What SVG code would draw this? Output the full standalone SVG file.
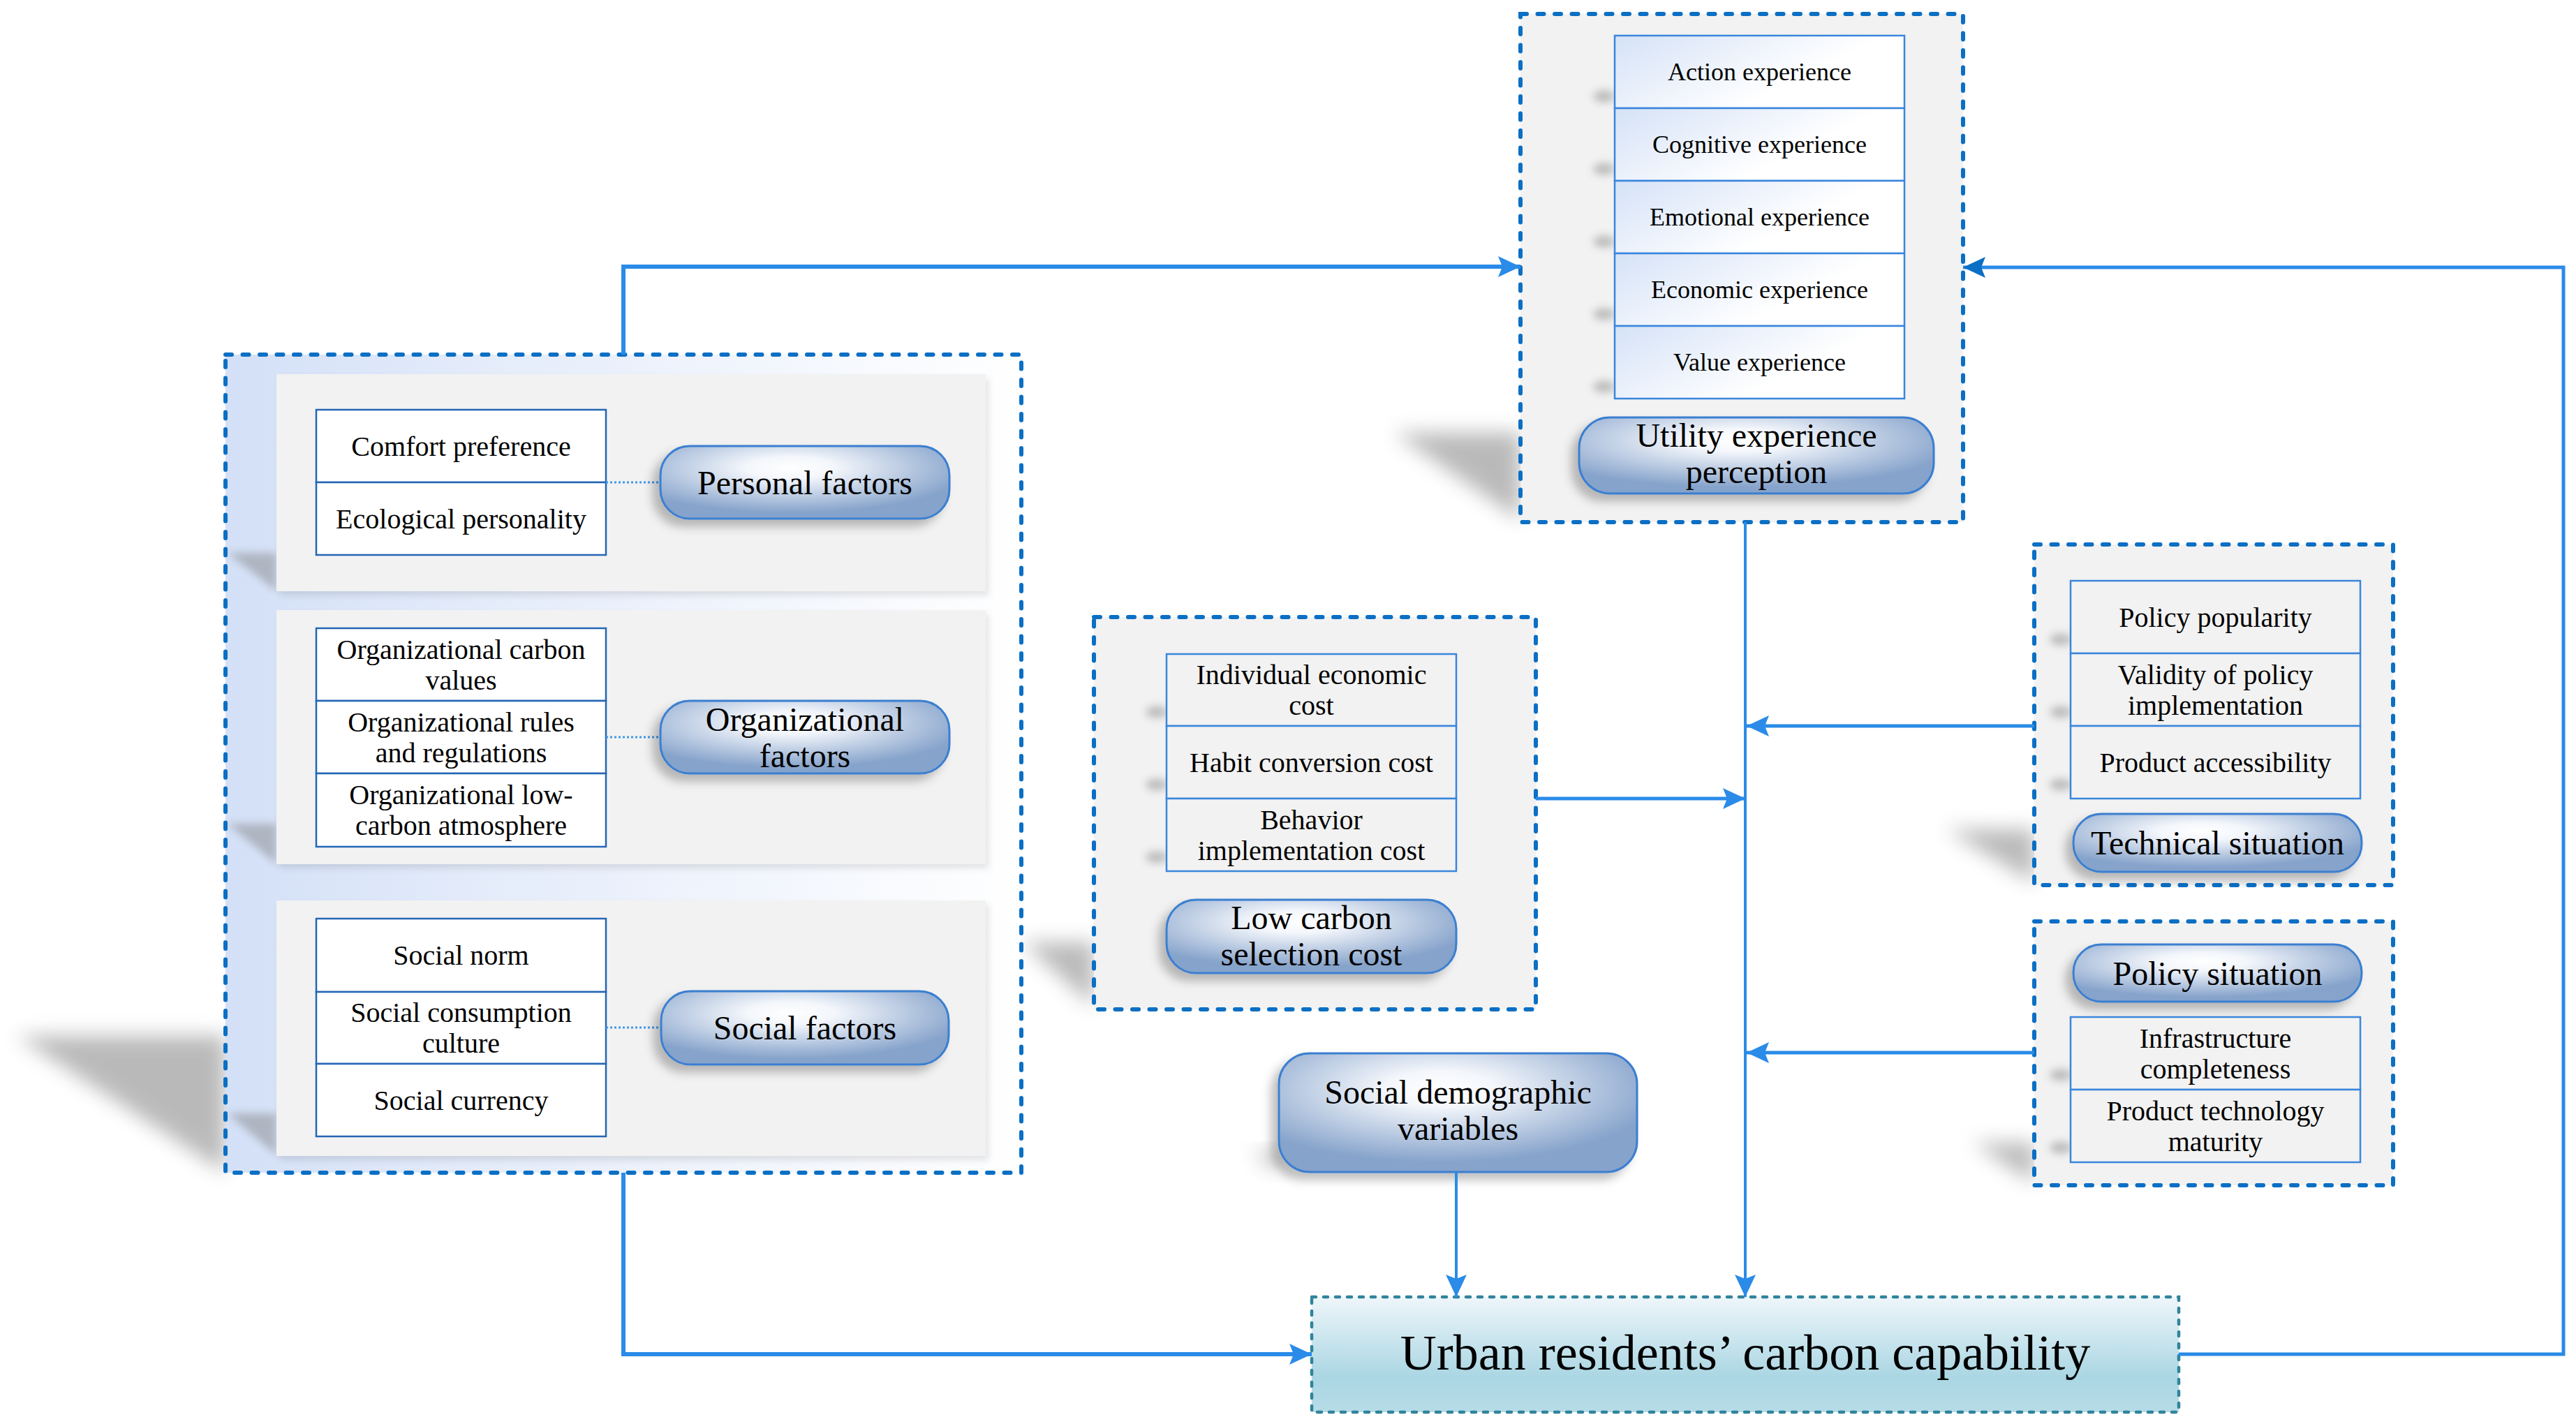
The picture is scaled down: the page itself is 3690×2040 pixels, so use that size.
<svg xmlns="http://www.w3.org/2000/svg" width="3690" height="2040" viewBox="0 0 3690 2040">
<defs>
<style>
.t{font-family:"Liberation Serif","Times New Roman",serif;text-anchor:middle;fill:#000}
.f40{font-size:40px}.f36{font-size:36px}.f48{font-size:48px}.f72{font-size:72px}
.group{fill:#f2f2f2;stroke:#0b6fc4;stroke-width:6;stroke-dasharray:9 15.5;stroke-linecap:round}
.panel{fill:#f2f2f2}
.subw{fill:#ffffff;stroke:#2466b5;stroke-width:2.5}
.subu{fill:url(#gUtil);stroke:#3a86dc;stroke-width:2.5}
.subg{fill:#f2f2f2;stroke:#3a86dc;stroke-width:2.5}
.pill{fill:url(#gPill);stroke:#3b7fd0;stroke-width:3;filter:url(#pillShadow)}
.dot{stroke:#3f9ae8;stroke-width:3;stroke-dasharray:3 3;fill:none}
.conn{fill:none;stroke:#2a8be8;stroke-linejoin:miter}
.shadow{fill:#8c8c8c;opacity:0.6;filter:url(#blur)}
.sshadow{fill:#808080;opacity:0.45;filter:url(#blurS)}
</style>
<linearGradient id="gLeft" x1="0" y1="0" x2="1" y2="0">
<stop offset="0" stop-color="#d3e0f7"/><stop offset="0.3" stop-color="#e3ebfa"/><stop offset="1" stop-color="#ffffff"/>
</linearGradient>
<linearGradient id="gUtil" x1="0" y1="0" x2="1" y2="0.5">
<stop offset="0" stop-color="#d5e2f7"/><stop offset="0.75" stop-color="#ffffff"/><stop offset="1" stop-color="#ffffff"/>
</linearGradient>
<radialGradient id="gPill" cx="0.45" cy="0.3" r="0.62">
<stop offset="0" stop-color="#ffffff"/><stop offset="0.25" stop-color="#f3f6fb"/><stop offset="1" stop-color="#86a3cb"/>
</radialGradient>
<linearGradient id="gUrban" x1="0" y1="0" x2="0" y2="1">
<stop offset="0" stop-color="#eef6fa"/><stop offset="0.7" stop-color="#aad6e3"/><stop offset="1" stop-color="#b6dce7"/>
</linearGradient>
<filter id="blur" x="-50%" y="-50%" width="200%" height="200%"><feGaussianBlur stdDeviation="14"/></filter>
<filter id="blurS" x="-100%" y="-100%" width="300%" height="300%"><feGaussianBlur stdDeviation="6"/></filter>
<filter id="pillShadow" x="-20%" y="-20%" width="140%" height="150%"><feDropShadow dx="-10" dy="10" stdDeviation="7" flood-color="#000" flood-opacity="0.25"/></filter>
<filter id="panelShadow" x="-5%" y="-5%" width="110%" height="115%"><feDropShadow dx="4" dy="6" stdDeviation="5" flood-color="#000" flood-opacity="0.1"/></filter>
<marker id="arr" markerUnits="userSpaceOnUse" viewBox="0 0 32 30" markerWidth="32" markerHeight="30" refX="32" refY="15" orient="auto">
<path d="M0,0 L32,15 L0,30 L6,15 Z" fill="#2a8be8"/>
</marker>
<marker id="arrD" markerUnits="userSpaceOnUse" viewBox="0 0 32 30" markerWidth="32" markerHeight="30" refX="32" refY="15" orient="auto">
<path d="M0,0 L32,15 L0,30 L6,15 Z" fill="#0b6fc4"/>
</marker>
</defs>
<rect width="3690" height="2040" fill="#ffffff"/>

<!-- shadows -->
<g id="shadows">
<polygon class="shadow" points="24,1484 323,1484 323,1680"/>
<polygon class="shadow" points="1997,620 2178,620 2178,745"/>
<polygon class="shadow" points="1465,1350 1567,1350 1567,1442"/>
<polygon class="shadow" points="2788,1188 2914,1188 2914,1265"/>
<polygon class="shadow" points="2826,1637 2914,1637 2914,1695"/>
<polygon class="shadow" points="1795,1650 1832,1650 1832,1680"/>
</g>

<!-- left group -->
<g id="individual-context">
<rect x="323" y="508" width="1140" height="1172" fill="url(#gLeft)" stroke="#0b6fc4" stroke-width="6" stroke-dasharray="9 15.5" stroke-linecap="round"/>
<polygon class="sshadow" points="326,792 396,792 396,847"/>
<polygon class="sshadow" points="326,1180 396,1180 396,1238"/>
<polygon class="sshadow" points="326,1595 396,1595 396,1655"/>
<g id="personal-factors">
<rect class="panel" x="396" y="536" width="1016" height="311" filter="url(#panelShadow)"/>
<rect class="subw" x="453" y="587" width="415" height="104"/>
<rect class="subw" x="453" y="691" width="415" height="104"/>
<text class="t f40" x="660.5" y="653">Comfort preference</text>
<text class="t f40" x="660.5" y="757">Ecological personality</text>
<line class="dot" x1="868" y1="691" x2="946" y2="691"/>
<rect class="pill" x="946" y="639" width="414" height="104" rx="42"/>
<text class="t f48" x="1153" y="708">Personal factors</text>
</g>
<g id="organizational-factors">
<rect class="panel" x="396" y="874" width="1016" height="364" filter="url(#panelShadow)"/>
<rect class="subw" x="453" y="900" width="415" height="104"/>
<rect class="subw" x="453" y="1004" width="415" height="104"/>
<rect class="subw" x="453" y="1108" width="415" height="105"/>
<text class="t f40" x="660.5" y="944">Organizational carbon</text>
<text class="t f40" x="660.5" y="988">values</text>
<text class="t f40" x="660.5" y="1048">Organizational rules</text>
<text class="t f40" x="660.5" y="1092">and regulations</text>
<text class="t f40" x="660.5" y="1152">Organizational low-</text>
<text class="t f40" x="660.5" y="1196">carbon atmosphere</text>
<line class="dot" x1="868" y1="1056" x2="946" y2="1056"/>
<rect class="pill" x="946" y="1004" width="414" height="104" rx="42"/>
<text class="t f48" x="1153" y="1047">Organizational</text>
<text class="t f48" x="1153" y="1099">factors</text>
</g>
<g id="social-factors">
<rect class="panel" x="396" y="1290" width="1016" height="366" filter="url(#panelShadow)"/>
<rect class="subw" x="453" y="1316" width="415" height="105"/>
<rect class="subw" x="453" y="1421" width="415" height="103"/>
<rect class="subw" x="453" y="1524" width="415" height="104"/>
<text class="t f40" x="660.5" y="1382">Social norm</text>
<text class="t f40" x="660.5" y="1464">Social consumption</text>
<text class="t f40" x="660.5" y="1508">culture</text>
<text class="t f40" x="660.5" y="1590">Social currency</text>
<line class="dot" x1="868" y1="1472" x2="947" y2="1472"/>
<rect class="pill" x="947" y="1420" width="412" height="105" rx="42"/>
<text class="t f48" x="1153" y="1489">Social factors</text>
</g>
</g>

<!-- utility experience -->
<g id="utility-experience">
<rect class="group" x="2178" y="20" width="634" height="728"/>
<ellipse class="sshadow" cx="2298" cy="138" rx="16" ry="9"/>
<ellipse class="sshadow" cx="2298" cy="242" rx="16" ry="9"/>
<ellipse class="sshadow" cx="2298" cy="346" rx="16" ry="9"/>
<ellipse class="sshadow" cx="2298" cy="450" rx="16" ry="9"/>
<ellipse class="sshadow" cx="2298" cy="554" rx="16" ry="9"/>
<rect class="subu" x="2313" y="51" width="415" height="104"/>
<rect class="subu" x="2313" y="155" width="415" height="104"/>
<rect class="subu" x="2313" y="259" width="415" height="104"/>
<rect class="subu" x="2313" y="363" width="415" height="104"/>
<rect class="subu" x="2313" y="467" width="415" height="104"/>
<text class="t f36" x="2520.5" y="115">Action experience</text>
<text class="t f36" x="2520.5" y="219">Cognitive experience</text>
<text class="t f36" x="2520.5" y="323">Emotional experience</text>
<text class="t f36" x="2520.5" y="427">Economic experience</text>
<text class="t f36" x="2520.5" y="531">Value experience</text>
<rect class="pill" x="2262" y="598" width="508" height="109" rx="44"/>
<text class="t f48" x="2516" y="640">Utility experience</text>
<text class="t f48" x="2516" y="692">perception</text>
</g>

<!-- low carbon selection cost -->
<g id="low-carbon-selection-cost">
<rect class="group" x="1567" y="884" width="633" height="562"/>
<ellipse class="sshadow" cx="1657" cy="1020" rx="16" ry="9"/>
<ellipse class="sshadow" cx="1657" cy="1124" rx="16" ry="9"/>
<ellipse class="sshadow" cx="1657" cy="1228" rx="16" ry="9"/>
<rect class="subg" x="1671" y="937" width="415" height="103"/>
<rect class="subg" x="1671" y="1040" width="415" height="104"/>
<rect class="subg" x="1671" y="1144" width="415" height="104"/>
<text class="t f40" x="1878.5" y="980">Individual economic</text>
<text class="t f40" x="1878.5" y="1024">cost</text>
<text class="t f40" x="1878.5" y="1106">Habit conversion cost</text>
<text class="t f40" x="1878.5" y="1188">Behavior</text>
<text class="t f40" x="1878.5" y="1232">implementation cost</text>
<rect class="pill" x="1671" y="1289" width="415" height="105" rx="42"/>
<text class="t f48" x="1878.5" y="1331">Low carbon</text>
<text class="t f48" x="1878.5" y="1383">selection cost</text>
</g>

<!-- technical situation -->
<g id="technical-situation">
<rect class="group" x="2914" y="780" width="514" height="488"/>
<ellipse class="sshadow" cx="2952" cy="916" rx="16" ry="9"/>
<ellipse class="sshadow" cx="2952" cy="1020" rx="16" ry="9"/>
<ellipse class="sshadow" cx="2952" cy="1124" rx="16" ry="9"/>
<rect class="subg" x="2966" y="832" width="415" height="104"/>
<rect class="subg" x="2966" y="936" width="415" height="104"/>
<rect class="subg" x="2966" y="1040" width="415" height="104"/>
<text class="t f40" x="3173.5" y="898">Policy popularity</text>
<text class="t f40" x="3173.5" y="980">Validity of policy</text>
<text class="t f40" x="3173.5" y="1024">implementation</text>
<text class="t f40" x="3173.5" y="1106">Product accessibility</text>
<rect class="pill" x="2970" y="1166" width="413" height="83" rx="40"/>
<text class="t f48" x="3176.5" y="1224">Technical situation</text>
</g>

<!-- policy situation -->
<g id="policy-situation">
<rect class="group" x="2914" y="1320" width="514" height="378"/>
<ellipse class="sshadow" cx="2952" cy="1540" rx="16" ry="9"/>
<ellipse class="sshadow" cx="2952" cy="1644" rx="16" ry="9"/>
<rect class="pill" x="2970" y="1353" width="413" height="82" rx="40"/>
<text class="t f48" x="3176.5" y="1411">Policy situation</text>
<rect class="subg" x="2966" y="1457" width="415" height="104"/>
<rect class="subg" x="2966" y="1561" width="415" height="104"/>
<text class="t f40" x="3173.5" y="1501">Infrastructure</text>
<text class="t f40" x="3173.5" y="1545">completeness</text>
<text class="t f40" x="3173.5" y="1605">Product technology</text>
<text class="t f40" x="3173.5" y="1649">maturity</text>
</g>

<!-- social demographic variables -->
<g id="social-demographic-variables">
<rect class="pill" x="1832" y="1509" width="513" height="170" rx="44"/>
<text class="t f48" x="2088.5" y="1581">Social demographic</text>
<text class="t f48" x="2088.5" y="1633">variables</text>
</g>

<!-- urban residents carbon capability -->
<g id="urban-carbon-capability">
<rect x="1879" y="1858" width="1242" height="165" fill="url(#gUrban)" stroke="#31849b" stroke-width="4.5" stroke-dasharray="6 11" stroke-linecap="round"/>
<text class="t f72" x="2500" y="1962">Urban residents’ carbon capability</text>
</g>

<!-- connectors -->
<g id="connectors">
<path class="conn" d="M893,508 V382 H2178" stroke-width="6" marker-end="url(#arr)"/>
<path class="conn" d="M893,1680 V1940 H1879" stroke-width="6" marker-end="url(#arr)"/>
<path class="conn" d="M2500,748 V1858" stroke-width="4" marker-end="url(#arr)"/>
<path class="conn" d="M2200,1144 H2500" stroke-width="5" marker-end="url(#arr)"/>
<path class="conn" d="M2914,1040 H2502" stroke-width="5" marker-end="url(#arr)"/>
<path class="conn" d="M2914,1508 H2502" stroke-width="5" marker-end="url(#arr)"/>
<path class="conn" d="M2086,1679 V1858" stroke-width="4" marker-end="url(#arr)"/>
<path class="conn" d="M3121,1940 H3672 V383 H2812" stroke="#0b6fc4" stroke-width="5" marker-end="url(#arrD)"/>
</g>
</svg>
